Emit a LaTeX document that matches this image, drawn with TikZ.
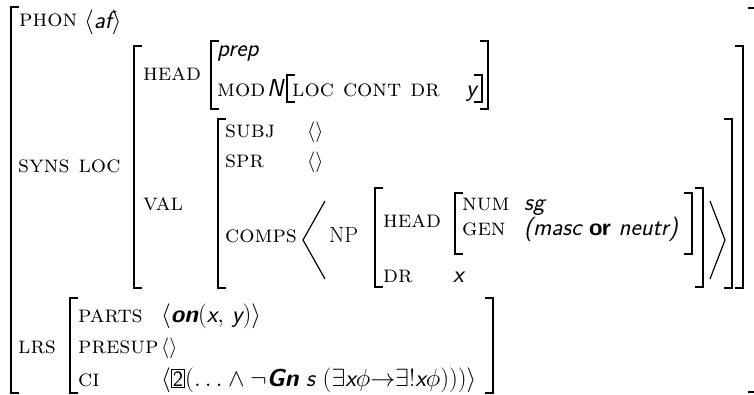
\documentclass[tikz,border=0pt]{standalone}
\usepackage{amsmath}
\usepackage{amssymb}
\usetikzlibrary{positioning}
\newcommand{\avmsize}{\fontsize{22}{26}\selectfont}
\newcommand{\featsize}{\fontsize{24}{29}\selectfont}
\newcommand{\valsize}{\fontsize{24.5}{29}\selectfont}
\newcommand{\avmtag}[1]{{\setlength{\fboxsep}{1pt}\setlength{\fboxrule}{1pt}\fbox{\fontsize{22}{24}\selectfont\upshape #1}}}
\newcommand{\bigang}[1]{{\fontsize{28}{28}\selectfont$#1$}}
\tikzset{
  feat/.style  = {anchor=base west, inner sep=0pt, font=\featsize\scshape},
  val/.style   = {anchor=base west, inner sep=0pt, font=\valsize\sffamily\itshape},
  plain/.style = {anchor=base west, inner sep=0pt, font=\avmsize},
  brk/.style   = {line width=1.8pt},
  sbrk/.style  = {line width=1.1pt},
  angl/.style  = {line width=1.2pt}
}
% brackets: x, top y, bottom y
\newcommand{\avmopen}[4][brk]{\draw[#1] (#2+8,#3) -- (#2,#3) -- (#2,#4) -- (#2+8,#4);}
\newcommand{\avmclose}[4][brk]{\draw[#1] (#2-8,#3) -- (#2,#3) -- (#2,#4) -- (#2-8,#4);}

\begin{document}
\begin{tikzpicture}[x=1pt,y=-1pt]
\useasboundingbox (0,0) rectangle (754,395);

% outer matrix
\node[feat] (phon) at (19,27) {phon};
\node[val] (phonv) at (84,29) {\bigang{\langle}af\bigang{\rangle}};
\node[feat] (synsloc) at (18,173) {syns loc};
\node[feat] (lrs) at (18,353) {lrs};

% LOC value
\node[feat] (head) at (143,81) {head};
\node[feat] (val) at (143,211) {val};

% HEAD value
\node[val] (prep) at (217,57) {prep};
\node[feat] (mod) at (217,97) {mod};
\node[val] (modn) at (267,97) {N};
\node[feat] (cont) at (292,97) {loc cont dr};
\node[val] (dry) at (466,97) {y};

% VAL value
\node[feat] (subj) at (225,138) {subj};
\node[plain] (subjv) at (307,138) {$\langle\rangle$};
\node[feat] (spr) at (225,168) {spr};
\node[plain] (sprv) at (307,168) {$\langle\rangle$};
\node[feat] (comps) at (225,243) {comps};
\node[plain] (np) at (329,243) {NP};
\node[feat] (nphead) at (383,228) {head};
\node[feat] (dr) at (383,282) {dr};
\node[val] (drx) at (453,282) {x};
\node[feat] (num) at (462,211) {num};
\node[val] (sg) at (524,211) {sg};
\node[feat] (gen) at (462,236) {gen};
\node[val] (genv) at (524,236) {(masc {\bfseries\upshape or} neutr)};

% LRS value
\node[feat] (parts) at (78,322) {parts};
\node[val] (partsv) at (161,322) {$\langle$\textbf{on}$($x$,$ y$)\rangle$};
\node[feat] (presup) at (78,353) {presup};
\node[plain] (presupv) at (161,353) {$\langle\rangle$};
\node[feat] (ci) at (78,386) {ci};
\node[val] (civ) at (161,386) {$\langle$\avmtag{2}$(\ldots\wedge\neg$\textbf{Gn} s $(\exists$x$\phi{\rightarrow}\exists!$x$\phi)))\rangle$};

% brackets
\avmopen{11}{7}{393} \avmclose{755.5}{8}{392}
\avmopen{134}{46}{288} \avmclose{743}{46}{288}
\avmopen{211}{41}{109} \avmclose{488}{41}{109}
\avmopen[sbrk]{287}{75}{102} \avmclose[sbrk]{482}{75}{102}
\avmopen{218}{119}{288} \avmclose{732}{119}{288}
\avmopen{375}{188}{287} \avmclose{703}{188}{287}
\avmopen{455}{193}{254} \avmclose{692}{193}{254}
\avmopen{70}{298}{393} \avmclose{493}{298}{393}

% list angles round the NP
\draw[angl] (325,201) -- (303,240) -- (325,279);
\draw[angl] (710,201) -- (725,240) -- (710,279);
\end{tikzpicture}
\end{document}
